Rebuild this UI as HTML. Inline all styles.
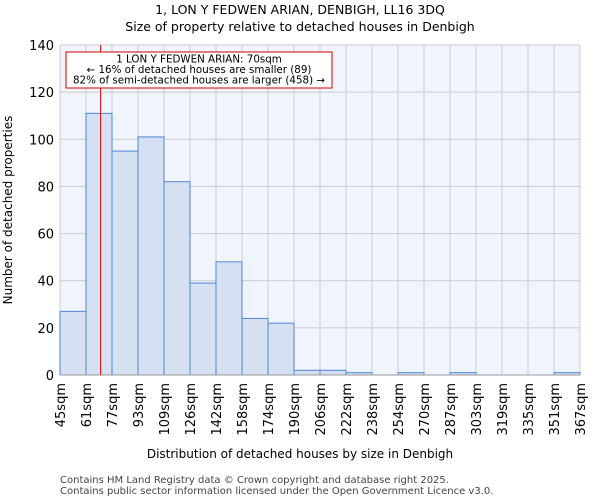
<!DOCTYPE html>
<html><head><meta charset="utf-8"><style>
body{margin:0;background:#fff;font-family:"DejaVu Sans","Liberation Sans",sans-serif}
text{font-family:"DejaVu Sans","Liberation Sans",sans-serif}
</style></head><body>
<svg id="chart" width="600" height="500" xmlns="http://www.w3.org/2000/svg">
<text x="300" y="14" text-anchor="middle" font-size="12.5">1, LON Y FEDWEN ARIAN, DENBIGH, LL16 3DQ</text>
<text x="300" y="31" text-anchor="middle" font-size="12.5">Size of property relative to detached houses in Denbigh</text>
<rect x="60" y="45" width="520" height="330" fill="#f0f4fc"/>
<g id="grid"></g><g id="bars"></g><g id="axes"></g>
<text x="300" y="458" text-anchor="middle" font-size="12">Distribution of detached houses by size in Denbigh</text>
<text transform="translate(12,210) rotate(-90)" text-anchor="middle" font-size="12">Number of detached properties</text>
<text x="60" y="483" font-size="10" fill="#444">Contains HM Land Registry data © Crown copyright and database right 2025.</text>
<text x="60" y="494" font-size="10" fill="#444">Contains public sector information licensed under the Open Government Licence v3.0.</text>
</svg>
<script>
const categories=["45sqm","61sqm","77sqm","93sqm","109sqm","126sqm","142sqm","158sqm","174sqm","190sqm","206sqm","222sqm","238sqm","254sqm","270sqm","287sqm","303sqm","319sqm","335sqm","351sqm","367sqm"];
const counts=[27,111,95,101,82,39,48,24,22,2,2,1,0,1,0,1,0,0,0,1];
const yTicks=[0,20,40,60,80,100,120,140];
const binStarts=[45,61,77,93,109,126,142,158,174,190,206,222,238,254,270,287,303,319,335,351,367];
const markerValue=70;
const NS="http://www.w3.org/2000/svg";
const x0=60,x1=580,y0=375,y1=45,yMax=140;
const bw=(x1-x0)/counts.length;
const xPos=i=>x0+i*bw;
const yPos=v=>y0-(v/yMax)*(y0-y1);
function mk(tag,attrs,parent){const e=document.createElementNS(NS,tag);for(const k in attrs)e.setAttribute(k,attrs[k]);parent.appendChild(e);return e;}
const grid=document.getElementById('grid'),bars=document.getElementById('bars'),axes=document.getElementById('axes');
yTicks.forEach(t=>{
 const l=mk('line',{x1:x0,x2:x1,y1:yPos(t),y2:yPos(t),stroke:'#cccccc','stroke-width':1},grid);
 
 
 const tx=mk('text',{x:x0-6,y:yPos(t)+5,'text-anchor':'end','font-size':13},axes);
 tx.textContent=t;
 
 
});
categories.forEach((c,i)=>{
 const x=xPos(i);
 const l=mk('line',{x1:x,x2:x,y1:y1,y2:y0,stroke:'#cccccc','stroke-width':1},grid);
 
 
 const tx=mk('text',{transform:`translate(${x+5},${y0+8}) rotate(-90)`,'text-anchor':'end','font-size':13},axes);
 tx.textContent=c;
 
 
});
counts.forEach((v,i)=>{
 if(v<=0)return;
 const r=mk('rect',{x:xPos(i),y:yPos(v),width:bw,height:y0-yPos(v),fill:'#d6e0f3',stroke:'#4f86d4','stroke-width':1},bars);
 
 
});
const ax=mk('line',{x1:x0,x2:x1,y1:y0,y2:y0,stroke:'#999','stroke-width':1},axes);


let bi=0;for(let i=0;i<binStarts.length-1;i++){if(markerValue>=binStarts[i])bi=i;}
const mx=xPos(bi)+(markerValue-binStarts[bi])/(binStarts[bi+1]-binStarts[bi])*bw;
const ml=mk('line',{x1:mx,x2:mx,y1:y1,y2:y0,stroke:'#d00000','stroke-width':1},axes);


const g=mk('g',{},axes);


mk('rect',{x:66,y:52,width:266,height:36,fill:'#fff',stroke:'#d00000','stroke-width':1},g);
["1 LON Y FEDWEN ARIAN: 70sqm","← 16% of detached houses are smaller (89)","82% of semi-detached houses are larger (458) →"].forEach((s,i)=>{
 const t=mk('text',{x:199,y:62.5+i*10.5,'text-anchor':'middle','font-size':10.3},g);
 t.textContent=s;
 
 
});
</script>
</body></html>
